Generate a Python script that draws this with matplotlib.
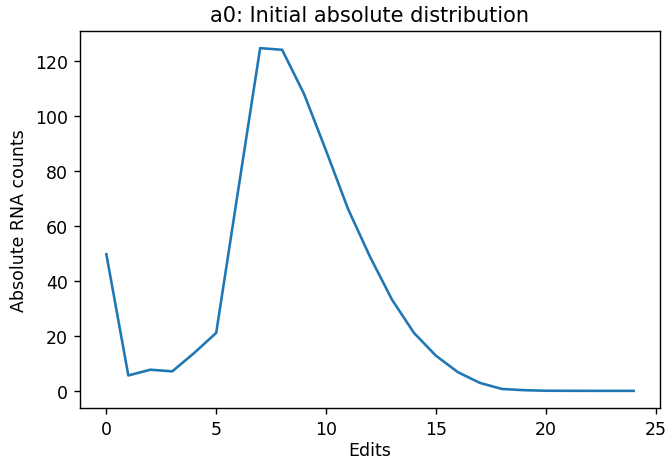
import matplotlib
matplotlib.use("Agg")
import matplotlib.pyplot as plt

# numero di edit e conteggi assoluti di RNA
edits = list(range(25))
counts = [49.7, 5.6, 7.7, 7.1, 13.8, 21.1, 73.0, 124.7, 124.1, 108.0,
          87.4, 66.2, 48.8, 33.2, 21.1, 12.8, 6.8, 2.9, 0.7, 0.25,
          0.05, 0.02, 0.01, 0.0, 0.0]

s = 1.25  # il riferimento e' reso con un dpi piu' alto
plt.rcParams.update({
    'font.size': 10 * s,
    'lines.linewidth': 1.5 * s,
    'axes.linewidth': 0.8 * s,
    'xtick.major.size': 3.5 * s,
    'ytick.major.size': 3.5 * s,
    'xtick.major.width': 0.8 * s,
    'ytick.major.width': 0.8 * s,
    'xtick.major.pad': 3.5 * s,
    'ytick.major.pad': 3.5 * s,
    'axes.titlepad': 6 * s,
})

fig = plt.figure(figsize=(6.66, 4.6), dpi=100)
ax = fig.add_axes([80 / 666, 1 - 409 / 460, 580 / 666, 377 / 460])
ax.plot(edits, counts)
ax.set_title('a0: Initial absolute distribution')
ax.set_xlabel('Edits', labelpad=2)
ax.set_ylabel('Absolute RNA counts', labelpad=4 * s)
fig.savefig('out.png', dpi=100)
